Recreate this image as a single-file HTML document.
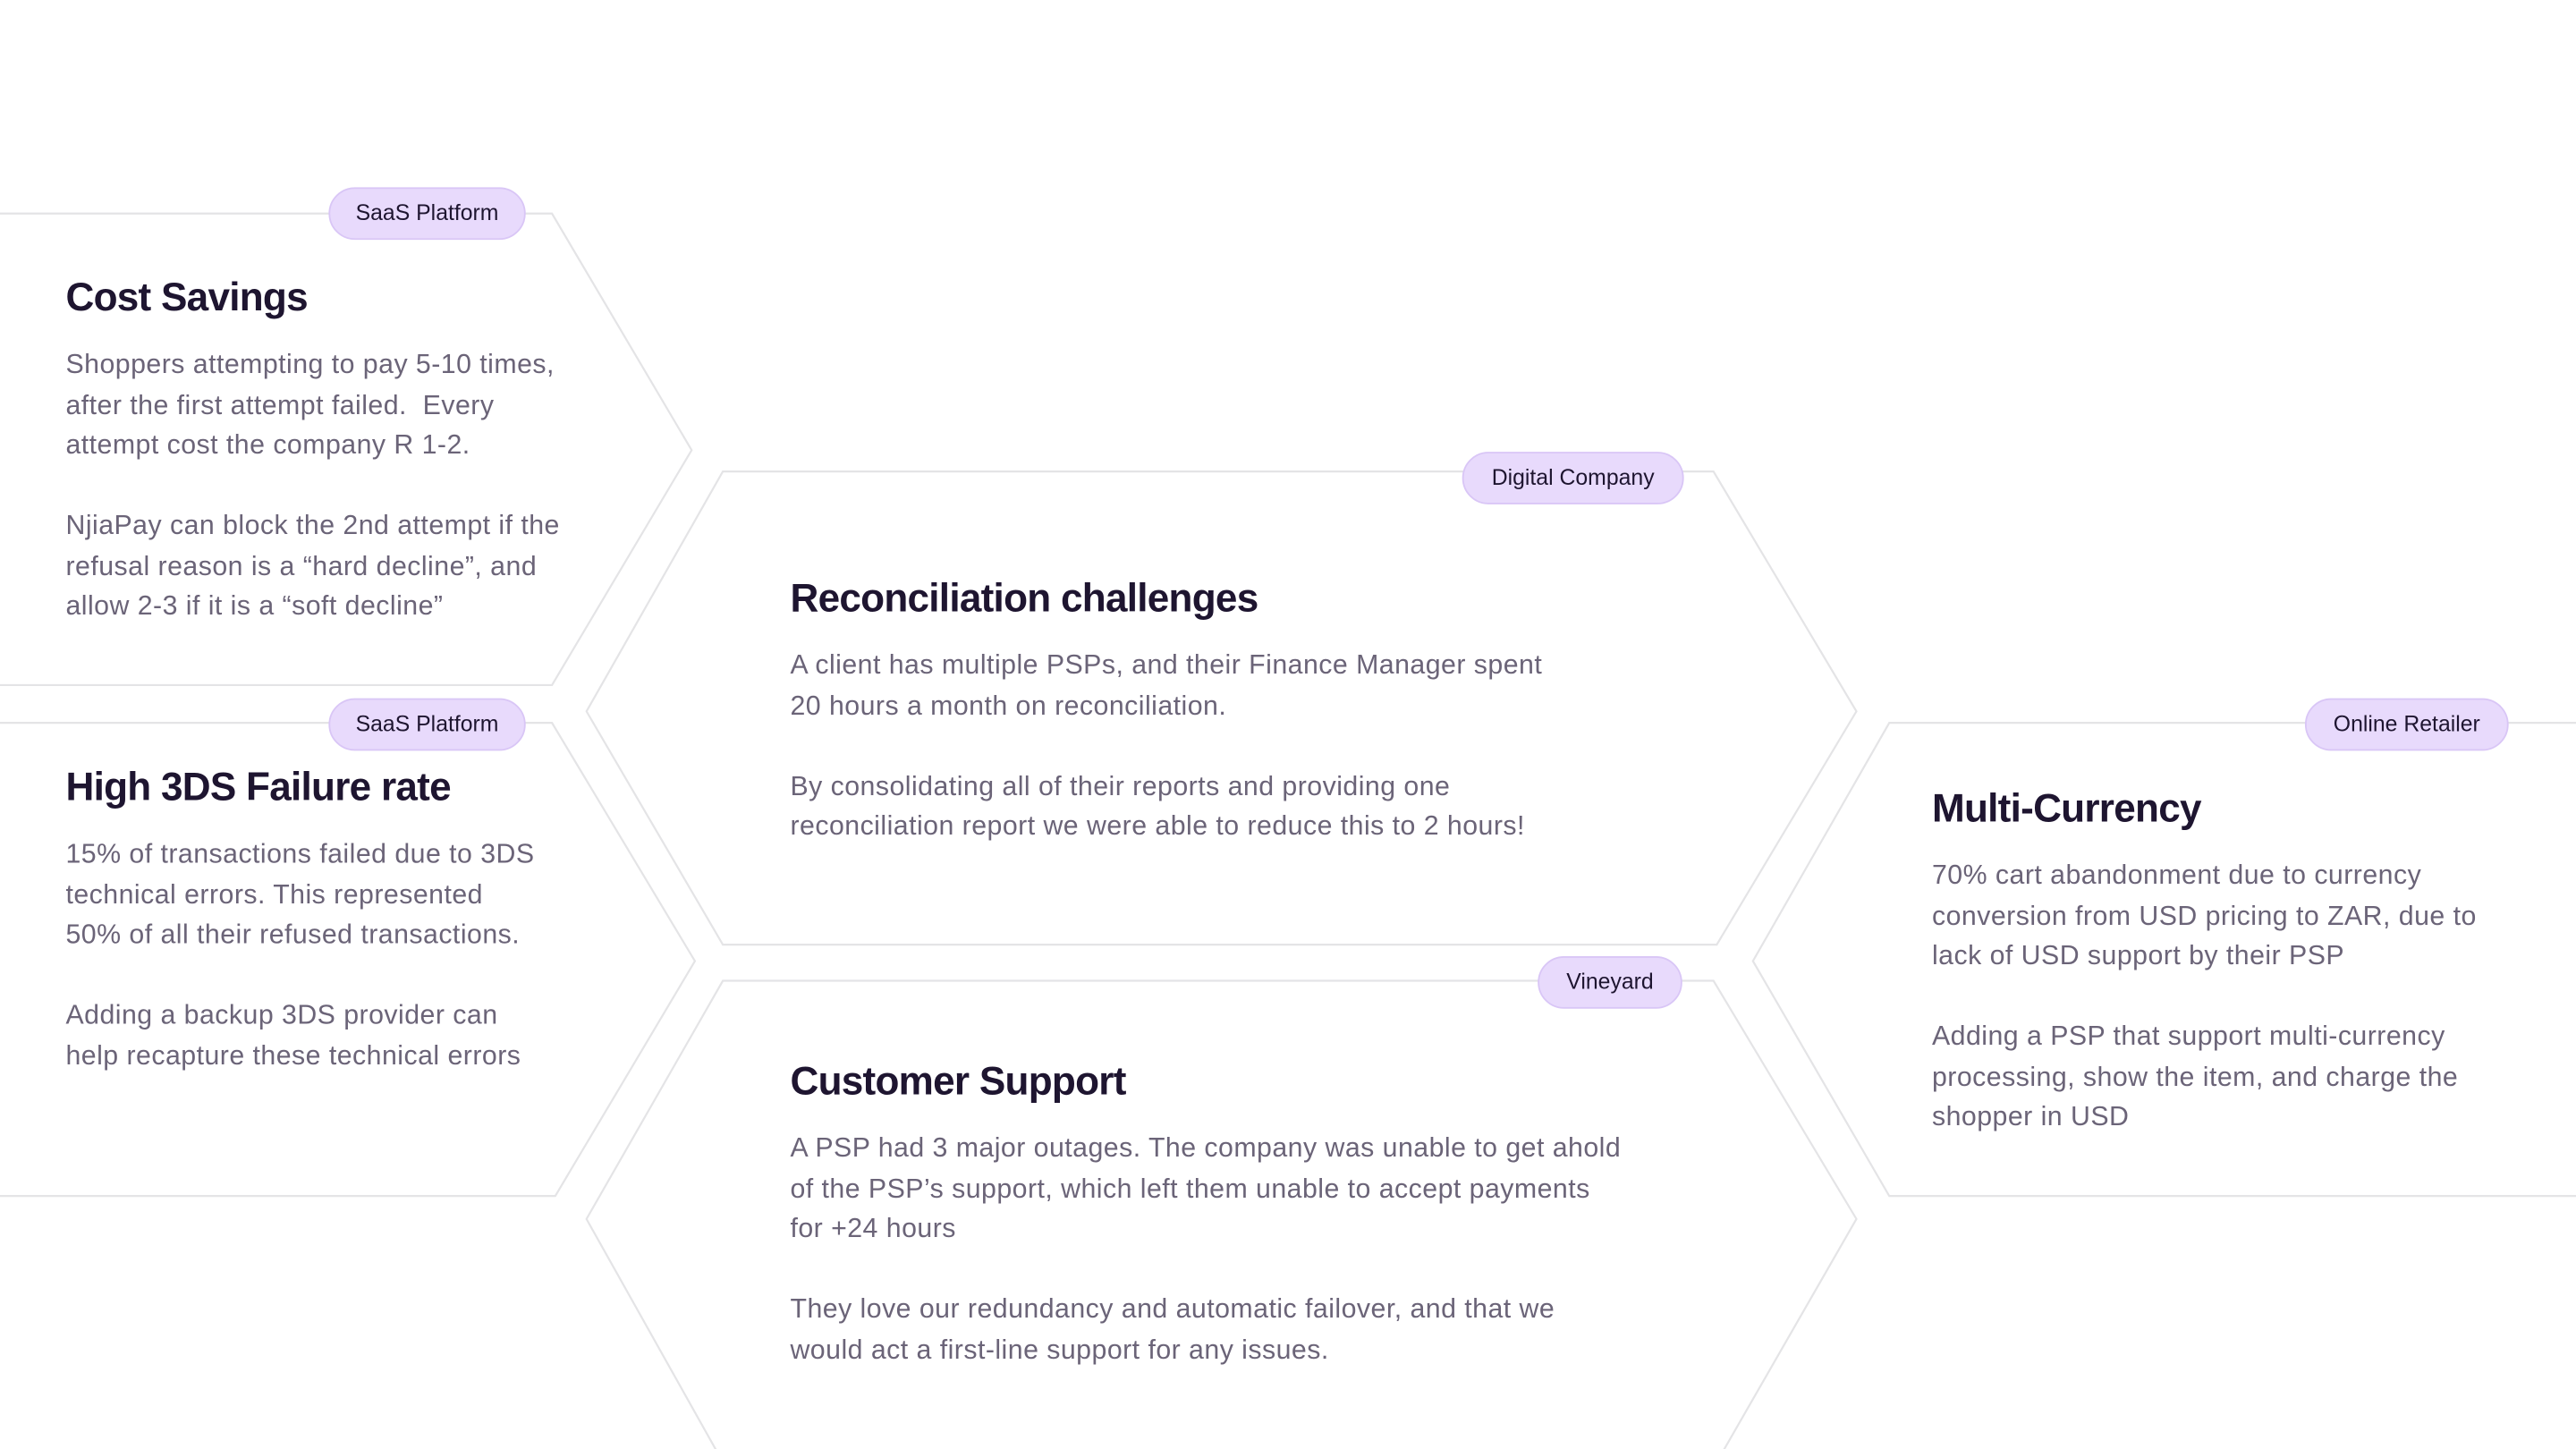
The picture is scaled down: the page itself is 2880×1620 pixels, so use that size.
<!DOCTYPE html>
<html><head><meta charset="utf-8"><style>
html,body{margin:0;padding:0;background:#fff;}
body{width:2880px;height:1620px;overflow:hidden;position:relative;}
#w{position:absolute;left:0;top:0;width:1568px;height:882px;transform:scale(1.83673);transform-origin:0 0;font-family:"Liberation Sans",sans-serif;}
svg{position:absolute;left:0;top:0;}
.t{position:absolute;font-size:24px;line-height:30px;font-weight:bold;color:#1e1530;white-space:nowrap;letter-spacing:-0.4px;}
.b{position:absolute;font-size:16.5px;line-height:24.5px;color:#6b6478;white-space:nowrap;letter-spacing:0.25px;}
.g{position:absolute;height:30px;border-radius:16px;background:#e8dafc;border:1px solid #d9c6f6;font-size:13.5px;line-height:30px;color:#1e1530;text-align:center;}
</style></head><body><div id="w">
<svg width="1568" height="882" viewBox="0 0 1568 882" fill="none" stroke="#e4e4e6" stroke-width="1.2">
<polyline points="0,130 336,130 421,274 336,417 0,417"/>
<polyline points="0,440 336,440 423,585 338,728 0,728"/>
<polygon points="440,287 1043,287 1130,433 1045,575 440,575 357,433"/>
<polyline points="440,890 357,742 440,597 1043,597 1130,742 1045,890"/>
<polyline points="1568,440 1150,440 1067,585 1150,728 1568,728"/>
</svg>

<div class="g" style="left:200px;top:114px;width:118px;">SaaS Platform</div>
<div class="g" style="left:200px;top:425px;width:118px;">SaaS Platform</div>
<div class="g" style="left:890px;top:275px;width:133px;">Digital Company</div>
<div class="g" style="left:936px;top:582px;width:86px;">Vineyard</div>
<div class="g" style="left:1403px;top:425px;width:122px;">Online Retailer</div>

<div class="t" style="left:40px;top:167px;">Cost Savings</div>
<div class="b" style="left:40px;top:210px;">Shoppers attempting to pay 5-10 times,<br>after the first attempt failed.&nbsp; Every<br>attempt cost the company R 1-2.<br><br>NjiaPay can block the 2nd attempt if the<br>refusal reason is a “hard decline”, and<br>allow 2-3 if it is a “soft decline”</div>

<div class="t" style="left:40px;top:465px;">High 3DS Failure rate</div>
<div class="b" style="left:40px;top:508px;">15% of transactions failed due to 3DS<br>technical errors. This represented<br>50% of all their refused transactions.<br><br>Adding a backup 3DS provider can<br>help recapture these technical errors</div>

<div class="t" style="left:481px;top:350px;">Reconciliation challenges</div>
<div class="b" style="left:481px;top:393px;">A client has multiple PSPs, and their Finance Manager spent<br>20 hours a month on reconciliation.<br><br>By consolidating all of their reports and providing one<br>reconciliation report we were able to reduce this to 2 hours!</div>

<div class="t" style="left:481px;top:644px;">Customer Support</div>
<div class="b" style="left:481px;top:687px;">A PSP had 3 major outages. The company was unable to get ahold<br>of the PSP’s support, which left them unable to accept payments<br>for +24 hours<br><br>They love our redundancy and automatic failover, and that we<br>would act a first-line support for any issues.</div>

<div class="t" style="left:1176px;top:478px;">Multi-Currency</div>
<div class="b" style="left:1176px;top:521px;">70% cart abandonment due to currency<br>conversion from USD pricing to ZAR, due to<br>lack of USD support by their PSP<br><br>Adding a PSP that support multi-currency<br>processing, show the item, and charge the<br>shopper in USD</div>
</div></body></html>
